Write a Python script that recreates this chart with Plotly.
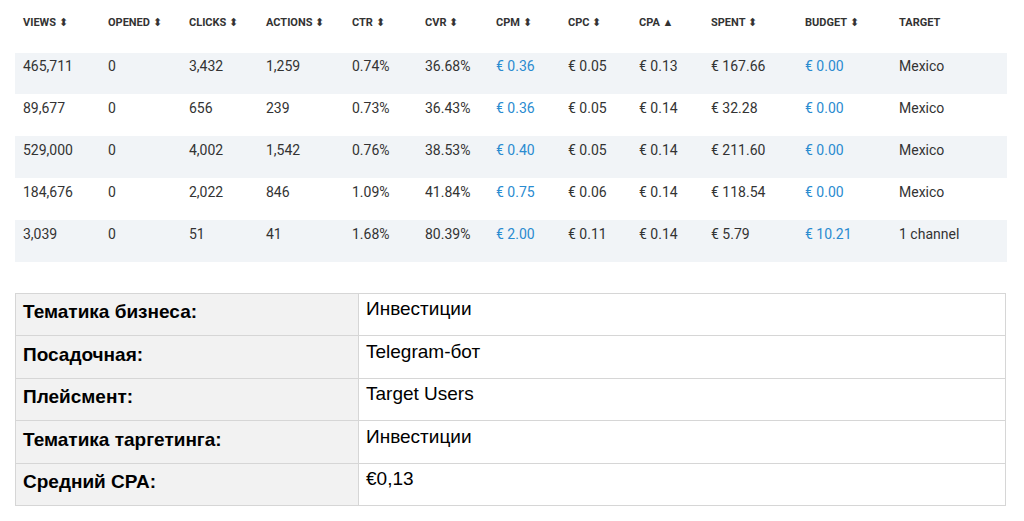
import plotly.graph_objects as go

W, H = 1024, 521

headers = ["VIEWS", "OPENED", "CLICKS", "ACTIONS", "CTR", "CVR", "CPM", "CPC", "CPA", "SPENT", "BUDGET", "TARGET"]
sort_marks = ["⬍"] * 8 + ["▲", "⬍", "⬍", ""]
views = ["465,711", "89,677", "529,000", "184,676", "3,039"]
opened = ["0", "0", "0", "0", "0"]
clicks = ["3,432", "656", "4,002", "2,022", "51"]
actions = ["1,259", "239", "1,542", "846", "41"]
ctr = ["0.74%", "0.73%", "0.76%", "1.09%", "1.68%"]
cvr = ["36.68%", "36.43%", "38.53%", "41.84%", "80.39%"]
cpm = ["€ 0.36", "€ 0.36", "€ 0.40", "€ 0.75", "€ 2.00"]
cpc = ["€ 0.05", "€ 0.05", "€ 0.05", "€ 0.06", "€ 0.11"]
cpa = ["€ 0.13", "€ 0.14", "€ 0.14", "€ 0.14", "€ 0.14"]
spent = ["€ 167.66", "€ 32.28", "€ 211.60", "€ 118.54", "€ 5.79"]
budget = ["€ 0.00", "€ 0.00", "€ 0.00", "€ 0.00", "€ 10.21"]
target = ["Mexico", "Mexico", "Mexico", "Mexico", "1 channel"]

info_labels = ["Тематика бизнеса:", "Посадочная:", "Плейсмент:", "Тематика таргетинга:", "Средний CPA:"]
info_values = ["Инвестиции", "Telegram-бот", "Target Users", "Инвестиции", "€0,13"]

cols = [views, opened, clicks, actions, ctr, cvr, cpm, cpc, cpa, spent, budget, target]
widths = [85, 81, 77, 86, 73, 71, 72, 71, 72, 94, 94, 116]
dark, blue = "#333333", "#2a8bd0"
col_colors = [blue if h in ("CPM", "BUDGET") else dark for h in headers]
row_fill = ["#f1f4f7" if i % 2 == 0 else "white" for i in range(len(views))]

fig = go.Figure()
fig.add_trace(go.Table(
    domain=dict(x=[7 / W, 999 / W], y=[1 - 262 / H, 1]),
    columnwidth=widths,
    header=dict(
        values=[f"<b>{h}</b> {m}" for h, m in zip(headers, sort_marks)],
        height=44, align="left", fill_color="white", line_color="white",
        font=dict(family="Roboto", size=11, color=dark),
    ),
    cells=dict(
        values=cols, height=42, align="left",
        fill_color=[row_fill] * len(cols), line_color="rgba(0,0,0,0)",
        font=dict(family="Roboto", size=14, color=col_colors),
    ),
))

fig.add_trace(go.Table(
    domain=dict(x=[7 / W, 997 / W], y=[1 - 498 / H, 1 - 285 / H]),
    columnwidth=[343, 647],
    header=dict(
        values=[f"<b>{info_labels[0]}</b>", info_values[0]],
        height=42.5, align="left", fill_color=["#f2f2f2", "white"], line_color="#d6d6d6",
        font=dict(family="Liberation Sans", size=19, color="black"),
    ),
    cells=dict(
        values=[[f"<b>{s}</b>" for s in info_labels[1:]], info_values[1:]],
        height=42.5, align="left", fill_color=["#f2f2f2", "white"], line_color="#d6d6d6",
        font=dict(family="Liberation Sans", size=19, color="black"),
    ),
))

fig.update_layout(width=W, height=H, margin=dict(l=0, r=0, t=0, b=0),
                  paper_bgcolor="white")
fig.write_html("out.html")
